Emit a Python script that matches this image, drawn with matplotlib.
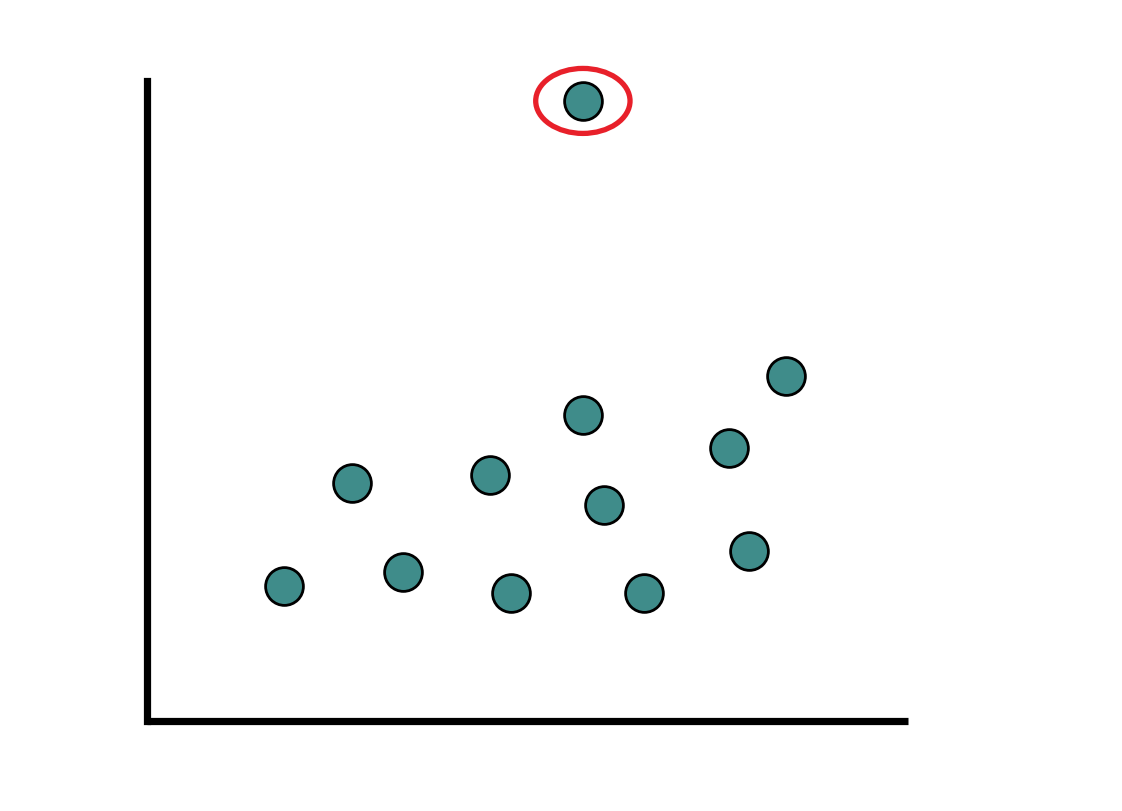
import matplotlib.pyplot as plt
from matplotlib.patches import Ellipse

# scatter points (arbitrary units)
x_vals = [1.80, 2.69, 3.36, 4.51, 4.78, 5.73, 6.01, 6.53, 7.65, 7.91, 8.40, 5.73]
y_vals = [2.09, 3.69, 2.31, 3.82, 1.99, 4.75, 3.35, 1.99, 4.24, 2.63, 5.36, 9.63]

# the outlier that gets circled
outlier_x = 5.73
outlier_y = 9.63

fig = plt.figure(figsize=(11.22, 8.12), dpi=100)
ax = fig.add_axes([0.131, 0.1113, 0.678, 0.7925])

ax.scatter(x_vals, y_vals, s=740, color='#3F8C8A', edgecolor='black', linewidth=2.0, zorder=3, clip_on=False)

ax.add_patch(Ellipse((outlier_x, outlier_y), 1.24, 1.01, fill=False, edgecolor='#E8202A', linewidth=3.8, zorder=4, clip_on=False))

ax.set_xlim(0, 10)
ax.set_ylim(0, 10)
ax.spines['top'].set_visible(False)
ax.spines['right'].set_visible(False)
for side in ['left', 'bottom']:
    ax.spines[side].set_linewidth(5.2)
ax.spines['bottom'].set_capstyle('butt')
# left spine projects down to fill the corner, top trimmed to stay at the same height
ax.spines['left'].set_capstyle('projecting')
ax.spines['left'].set_bounds(0, 9.94)
ax.set_xticks([])
ax.set_yticks([])

fig.savefig('out.png', dpi=100)
